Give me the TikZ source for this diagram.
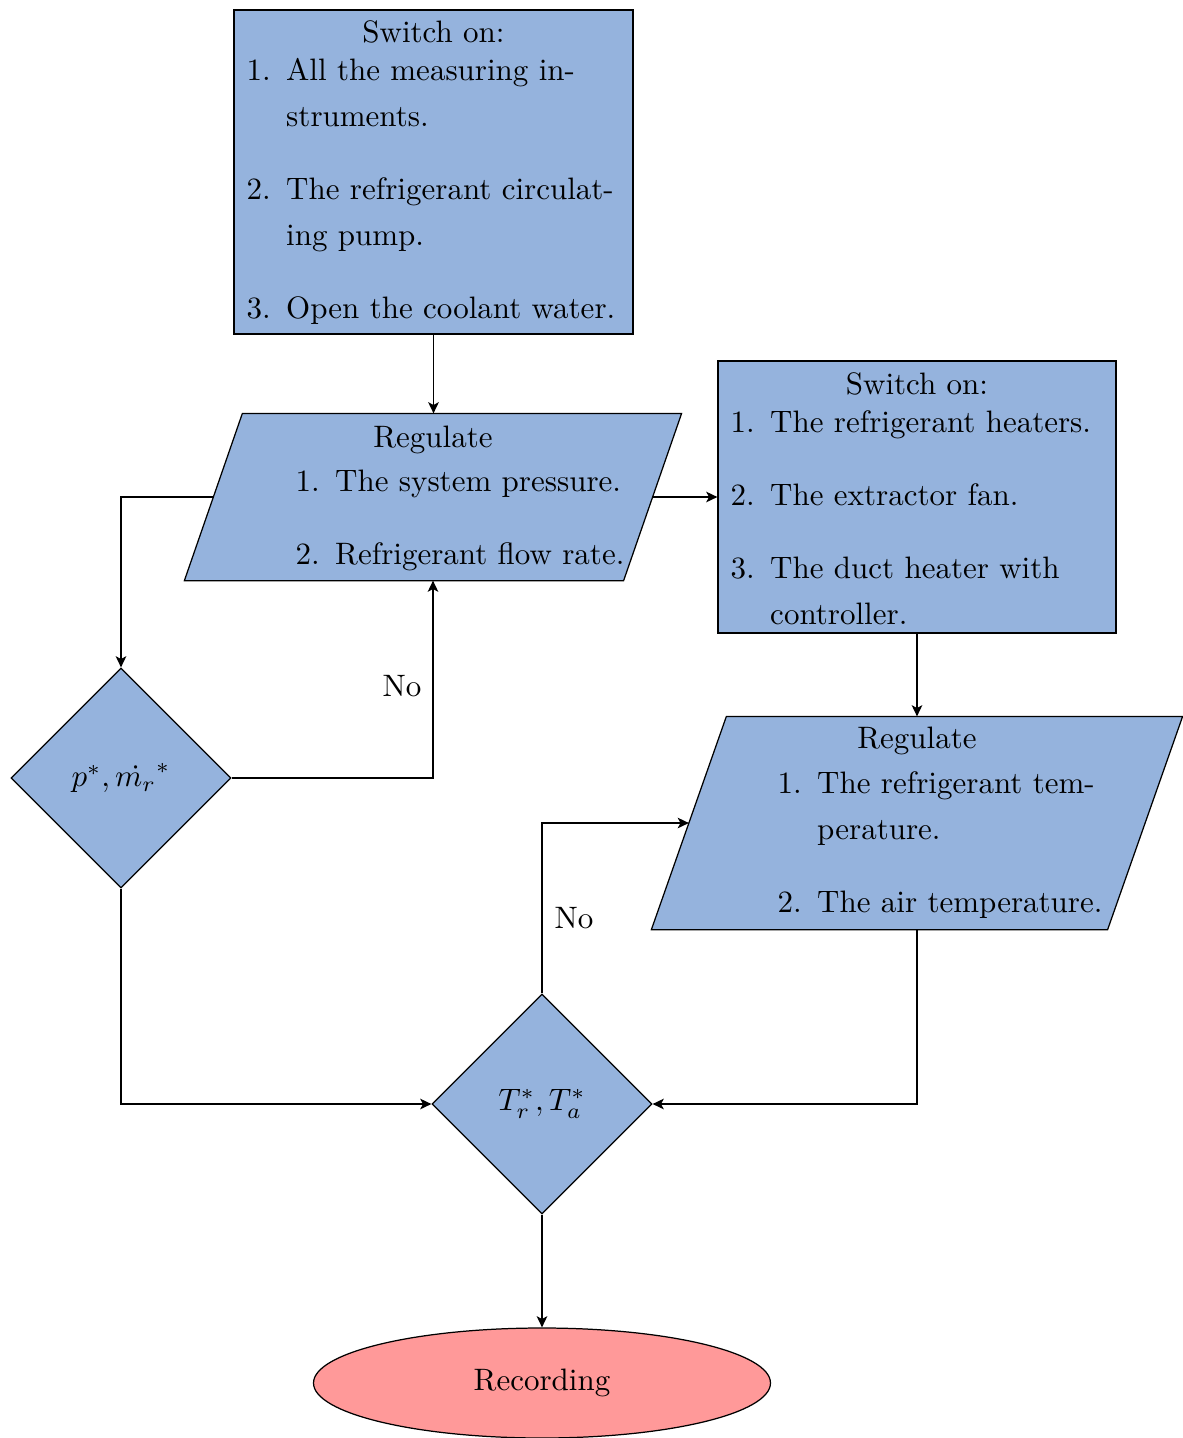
\documentclass[tikz,border=0pt]{standalone}
\usetikzlibrary{shapes.geometric,arrows.meta,calc}
\definecolor{boxblue}{RGB}{149,179,221}
\definecolor{endred}{RGB}{255,153,153}
\def\pxu{0.3226}
\begin{document}
\begin{tikzpicture}[x=0.3226pt,y=-0.3226pt,
  >={Stealth[length=3.6pt,width=3.4pt,inset=0.9pt]},
  boxnode/.style={rectangle, draw, fill=boxblue, inner sep=0},
  ioframe/.style={rectangle, inner sep=0},
  iofill/.style={draw, fill=boxblue},
  decnode/.style={diamond, draw, fill=boxblue, inner sep=0,
     minimum width=\pxu*220pt, minimum height=\pxu*220pt},
  endnode/.style={ellipse, draw, fill=endred, inner sep=0},
  flow/.style={->, semithick},
  txt/.style={inner sep=0, anchor=base},
  lst/.style={inner sep=0, anchor=base west}]
\useasboundingbox (0,0) rectangle (1183,1438);

% shapes
\node[boxnode, minimum width=\pxu*399pt, minimum height=\pxu*324pt] (b1) at (433.5,172) {};
\node[boxnode, minimum width=\pxu*398pt, minimum height=\pxu*272pt] (b2) at (917,497) {};
\node[ioframe, minimum width=\pxu*496pt, minimum height=\pxu*166pt] (p1) at (433,497) {};
\node[ioframe, minimum width=\pxu*530pt, minimum height=\pxu*212pt] (p2) at (917,823) {};
\path[iofill] ($(p1.north west)+(58,0)$) -- (p1.north east) -- ($(p1.south east)-(58,0)$) -- (p1.south west) -- cycle;
\path[iofill] ($(p2.north west)+(75,0)$) -- (p2.north east) -- ($(p2.south east)-(75,0)$) -- (p2.south west) -- cycle;
\coordinate (p1w) at ($(p1.west)+(29,0)$);
\coordinate (p1e) at ($(p1.east)-(29,0)$);
\coordinate (p2w) at ($(p2.west)+(37.5,0)$);
\node[decnode] (d1) at (121,778) {$p^*, \dot{m_r}^*$};
\node[decnode] (d2) at (542,1104) {$T_r^*, T_a^*$};
\node[endnode, minimum width=\pxu*457pt, minimum height=\pxu*110pt] (rec) at (542,1383) {Recording};

% texts
\node[txt] (b1t) at (433.5,42) {Switch on:};
\node[lst] (b1l) at (246,80) {\begin{tabular}[t]{@{}l@{\hspace{5pt}}l@{}}
1. & All the measuring in-\\[2.84pt]
   & struments.\\[11.55pt]
2. & The refrigerant circulat-\\[2.84pt]
   & ing pump.\\[11.55pt]
3. & Open the coolant water.
\end{tabular}};

\node[txt] (b2t) at (917,394) {Switch on:};
\node[lst] (b2l) at (730,432) {\begin{tabular}[t]{@{}l@{\hspace{5pt}}l@{}}
1. & The refrigerant heaters.\\[11.55pt]
2. & The extractor fan.\\[11.55pt]
3. & The duct heater with\\[2.84pt]
   & controller.
\end{tabular}};

\node[txt] (p1t) at (433,447) {Regulate};
\node[lst] (p1l) at (295,491) {\begin{tabular}[t]{@{}l@{\hspace{5pt}}l@{}}
1. & The system pressure.\\[11.55pt]
2. & Refrigerant flow rate.
\end{tabular}};

\node[txt] (p2t) at (917,748) {Regulate};
\node[lst] (p2l) at (777,793) {\begin{tabular}[t]{@{}l@{\hspace{5pt}}l@{}}
1. & The refrigerant tem-\\[2.84pt]
   & perature.\\[11.55pt]
2. & The air temperature.
\end{tabular}};

\node (no1) at (402,686) {No};
\node (no2) at (574,918) {No};

% connectors
\draw[flow] (b1.south) -- (b1.south |- p1.north);
\draw[flow] (p1e) -- (b2.west);
\draw[flow] (p1w) -| (d1.north);
\draw[flow] (d1.east) -| (p1.center |- p1.south);
\draw[flow] (b2.south) -- (b2.south |- p2.north);
\draw[flow] (p2.center |- p2.south) |- (d2.east);
\draw[flow] (d1.south) |- (d2.west);
\draw[flow] (d2.north) |- (p2w);
\draw[flow] (d2.south) -- (rec.north);
\end{tikzpicture}
\end{document}
